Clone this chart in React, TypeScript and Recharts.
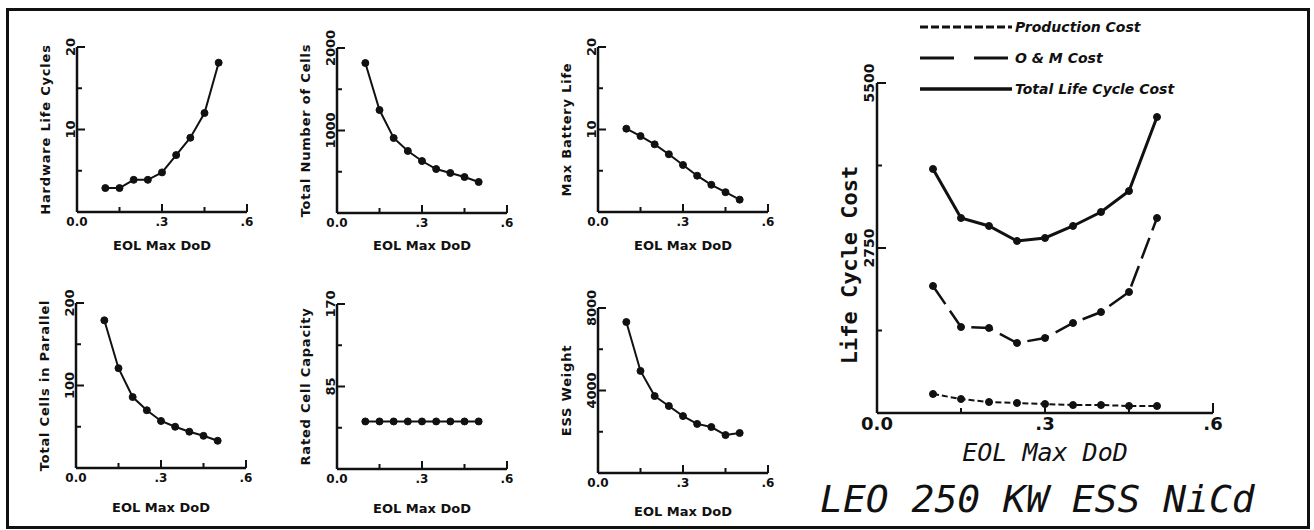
import React from 'react';
import { LineChart, Line, XAxis, YAxis, Legend, Label } from 'recharts';

// ---------- data ----------
const dod = [0.1, 0.15, 0.2, 0.25, 0.3, 0.35, 0.4, 0.45, 0.5];
const xTicks = [0, 0.15, 0.3, 0.45, 0.6];
const xTickLabels: Record<string, string> = { '0': '0.0', '0.3': '.3', '0.6': '.6' };

const hardwareLifeCycles = [2.9, 2.9, 3.9, 3.9, 4.8, 6.9, 9.0, 12.0, 18.1];
const totalNumberOfCells = [1818, 1248, 909, 752, 630, 533, 485, 436, 376];
const maxBatteryLife = [10.1, 9.2, 8.2, 7.0, 5.7, 4.4, 3.3, 2.4, 1.5];
const totalCellsInParallel = [179, 121, 86, 70, 57, 50, 44, 39, 33];
const ratedCellCapacity = [49, 49, 49, 49, 49, 49, 49, 49, 49];
const essWeight = [7320, 4950, 3730, 3250, 2760, 2380, 2230, 1840, 1940];

const productionCost = [317, 233, 183, 167, 150, 133, 133, 117, 117];
const omCost = [2117, 1433, 1417, 1167, 1250, 1500, 1683, 2017, 3250];
const totalLifeCycleCost = [4067, 3250, 3117, 2867, 2917, 3117, 3350, 3700, 4933];

const hwTicks = [0, 5, 10, 15, 20];
const hwTickLabels = ['', '', '10', '', '20'];
const cellsTicks = [0, 500, 1000, 1500, 2000];
const cellsTickLabels = ['', '', '1000', '', '2000'];
const lifeTicks = [0, 5, 10, 15, 20];
const lifeTickLabels = ['', '', '10', '', '20'];
const parallelTicks = [0, 50, 100, 150, 200];
const parallelTickLabels = ['', '', '100', '', '200'];
const capacityTicks = [0, 42.5, 85, 127.5, 170];
const capacityTickLabels = ['', '', '85', '', '170'];
const weightTicks = [0, 2000, 4000, 6000, 8000];
const weightTickLabels = ['', '', '4000', '', '8000'];
const costTicks = [0, 1375, 2750, 4125, 5500];
const costTickLabels = ['', '', '2750', '', '5500'];

const seriesNames = ['Production Cost', 'O & M Cost', 'Total Life Cycle Cost'];

// ---------- styles ----------
const FONT = "'DejaVu Sans', sans-serif";
const MONO = "'DejaVu Sans Mono', monospace";
const INK = '#111';

// ---------- small chart ----------
const PL = 70, PT = 30, PW = 170, PH = 165, CW = 265, CH = 250, XH = 50;
const PB = PT + PH;

type SmallProps = {
  left: number; top: number; values: number[]; yTicks: number[]; yLabels: string[];
  title: string; gap: number;
};

function SmallChart({ left, top, values, yTicks, yLabels, title, gap }: SmallProps) {
  const data = dod.map((x, i) => ({ x, v: values[i] }));
  const yTick = (p: any) => {
    const idx = yTicks.indexOf(p.payload.value);
    const lab = yLabels[idx];
    const y = p.y;
    return (
      <g>
        <line x1={PL} x2={PL + (lab ? 8 : 5)} y1={y} y2={y} stroke={INK} strokeWidth={2} />
        {lab ? (
          <text x={PL - 2} y={y} transform={`rotate(-90 ${PL - 2} ${y})`} textAnchor="middle"
            fontFamily={FONT} fontWeight="bold" fontSize={13} fill={INK}>{lab}</text>
        ) : null}
      </g>
    );
  };
  const xTick = (p: any) => {
    const lab = xTickLabels[String(p.payload.value)];
    const x = p.x;
    return (
      <g>
        <line x1={x} x2={x} y1={PB} y2={PB - (lab ? 8 : 5)} stroke={INK} strokeWidth={2} />
        {lab ? (
          <text x={x} y={PB + 14} textAnchor="middle" fontFamily={FONT} fontWeight="bold"
            fontSize={12} fill={INK}>{lab}</text>
        ) : null}
      </g>
    );
  };
  return (
    <div style={{ position: 'absolute', left: left - PL, top: top - PT }}>
      <LineChart width={CW} height={CH} data={data}
        margin={{ top: PT, right: CW - PL - PW, bottom: CH - PB - XH, left: 0 }}>
        <XAxis type="number" dataKey="x" domain={[0, 0.6]} ticks={xTicks} interval={0} height={XH}
          axisLine={{ stroke: INK, strokeWidth: 2.5 }} tickLine={false} tick={xTick}
          label={<Label content={() => (
            <text x={PL + PW / 2} y={PB + gap} textAnchor="middle" fontFamily={FONT}
              fontWeight="bold" fontSize={13} fill={INK}>EOL Max DoD</text>
          )} />} />
        <YAxis type="number" domain={[0, yTicks[yTicks.length - 1]]} ticks={yTicks} interval={0}
          width={PL} axisLine={{ stroke: INK, strokeWidth: 2.5 }} tickLine={false} tick={yTick}
          label={<Label content={() => (
            <text x={PL - 27} y={PT + PH / 2} transform={`rotate(-90 ${PL - 27} ${PT + PH / 2})`}
              textAnchor="middle" fontFamily={FONT} fontWeight="bold" fontSize={13}
              letterSpacing={0.8} fill={INK}>{title}</text>
          )} />} />
        <Line dataKey="v" stroke={INK} strokeWidth={2} isAnimationActive={false}
          dot={{ r: 3.5, fill: INK, stroke: INK, strokeWidth: 1 }} activeDot={false} />
      </LineChart>
    </div>
  );
}

// ---------- big chart ----------
const BL = 797, BT = 10, BPL = 80, BPT = 73, BPW = 336, BPH = 330, BW = 506, BH = 470, BXH = 60;
const BPB = BPT + BPH;

const lineStyles = [
  { key: 'production', dash: '6 3', width: 2 },
  { key: 'om', dash: '22 8', width: 2.5 },
  { key: 'total', dash: undefined as string | undefined, width: 3 },
];
const legendDash = ['8 3', '34 20', undefined as string | undefined];

function LegendBox() {
  return (
    <svg width={320} height={84}>
      {seriesNames.map((n, i) => {
        const y = 8 + i * 31;
        return (
          <g key={n}>
            <line x1={0} x2={92} y1={y} y2={y} stroke={INK} strokeWidth={i === 2 ? 3.5 : 3}
              strokeDasharray={legendDash[i]} />
            <text x={95} y={y + 5} fontFamily={FONT} fontWeight="bold" fontStyle="italic"
              fontSize={14} fill={INK}>{n}</text>
          </g>
        );
      })}
    </svg>
  );
}

function BigChart() {
  const data = dod.map((x, i) => ({
    x, production: productionCost[i], om: omCost[i], total: totalLifeCycleCost[i],
  }));
  const yTick = (p: any) => {
    const idx = costTicks.indexOf(p.payload.value);
    const lab = costTickLabels[idx];
    const y = p.y;
    return (
      <g>
        <line x1={BPL} x2={BPL + (lab ? 9 : 5)} y1={y} y2={y} stroke={INK} strokeWidth={2} />
        {lab ? (
          <text x={BPL - 3} y={y} transform={`rotate(-90 ${BPL - 3} ${y})`} textAnchor="middle"
            fontFamily={FONT} fontWeight="bold" fontSize={14} fill={INK}>{lab}</text>
        ) : null}
      </g>
    );
  };
  const xTick = (p: any) => {
    const lab = xTickLabels[String(p.payload.value)];
    const x = p.x;
    return (
      <g>
        <line x1={x} x2={x} y1={BPB} y2={BPB - (lab ? 10 : 5)} stroke={INK} strokeWidth={2} />
        {lab ? (
          <text x={x} y={BPB + 17} textAnchor="middle" fontFamily={FONT} fontWeight="bold"
            fontSize={18} fill={INK}>{lab}</text>
        ) : null}
      </g>
    );
  };
  return (
    <div style={{ position: 'absolute', left: BL, top: BT }}>
      <LineChart width={BW} height={BH} data={data}
        margin={{ top: BPT, right: BW - BPL - BPW, bottom: BH - BPB - BXH, left: 0 }}>
        <XAxis type="number" dataKey="x" domain={[0, 0.6]} ticks={xTicks} interval={0} height={BXH}
          axisLine={{ stroke: INK, strokeWidth: 2.5 }} tickLine={false} tick={xTick}
          label={<Label content={() => (
            <text x={BPL + BPW / 2} y={451} textAnchor="middle" fontFamily={MONO}
              fontStyle="italic" fontSize={25} fill={INK}>EOL Max DoD</text>
          )} />} />
        <YAxis type="number" domain={[0, 5500]} ticks={costTicks} interval={0} width={BPL}
          axisLine={{ stroke: INK, strokeWidth: 2.5 }} tickLine={false} tick={yTick}
          label={<Label content={() => (
            <text x={60} y={255} transform={`rotate(-90 60 255)`} textAnchor="middle"
              fontFamily={MONO} fontWeight="bold" fontSize={22} fill={INK}>Life Cycle Cost</text>
          )} />} />
        <Legend layout="horizontal" verticalAlign="middle" align="center"
          wrapperStyle={{ left: 123, top: 9, width: 320, height: 84 }} content={() => <LegendBox />} />
        {lineStyles.map((s, i) => (
          <Line key={s.key} dataKey={s.key} name={seriesNames[i]} stroke={INK} strokeWidth={s.width}
            strokeDasharray={s.dash} isAnimationActive={false}
            dot={{ r: 3.5, fill: INK, stroke: INK, strokeWidth: 1, strokeDasharray: '' }}
            activeDot={false} />
        ))}
      </LineChart>
    </div>
  );
}

const smallCharts: SmallProps[] = [
  { left: 77, top: 47, values: hardwareLifeCycles, yTicks: hwTicks, yLabels: hwTickLabels, title: 'Hardware Life Cycles', gap: 38 },
  { left: 337, top: 48, values: totalNumberOfCells, yTicks: cellsTicks, yLabels: cellsTickLabels, title: 'Total Number of Cells', gap: 37 },
  { left: 598, top: 47, values: maxBatteryLife, yTicks: lifeTicks, yLabels: lifeTickLabels, title: 'Max Battery Life', gap: 38 },
  { left: 76, top: 303, values: totalCellsInParallel, yTicks: parallelTicks, yLabels: parallelTickLabels, title: 'Total Cells in Parallel', gap: 44 },
  { left: 337, top: 304, values: ratedCellCapacity, yTicks: capacityTicks, yLabels: capacityTickLabels, title: 'Rated Cell Capacity', gap: 44 },
  { left: 598, top: 308, values: essWeight, yTicks: weightTicks, yLabels: weightTickLabels, title: 'ESS Weight', gap: 43 },
];

export default function App() {
  return (
    <div style={{ position: 'absolute', left: 0, top: 0, width: 1314, height: 530, background: '#fff', overflow: 'hidden' }}>
      <div style={{ position: 'absolute', left: 6, top: 8, width: 1304, height: 521, border: `3px solid ${INK}`, boxSizing: 'border-box' }} />
      {smallCharts.map((c) => <SmallChart key={c.title} {...c} />)}
      <BigChart />
      <div style={{ position: 'absolute', left: 820, top: 474, fontFamily: MONO, fontStyle: 'italic', fontSize: 38, lineHeight: '50px', color: INK, whiteSpace: 'nowrap' }}>
        LEO 250 KW ESS NiCd
      </div>
    </div>
  );
}
